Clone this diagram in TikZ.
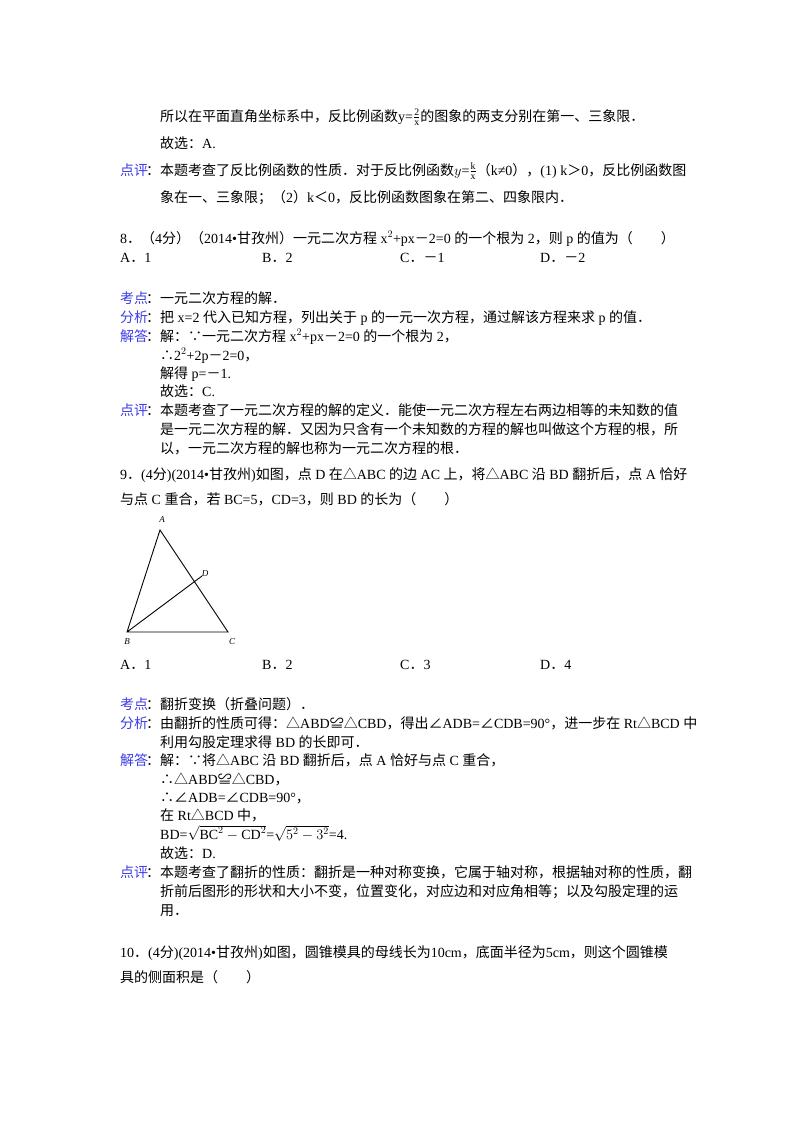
\documentclass[tikz,border=0pt]{standalone}
\usepackage{amsmath}
\usepackage{fontspec}
\setmainfont{Liberation Serif}
\newfontfamily\cjk{Noto Sans CJK SC}
\XeTeXinterchartokenstate=1
\newXeTeXintercharclass\cjkclass
\count255="4E00 \loop\XeTeXcharclass\count255=\cjkclass\advance\count255 1 \ifnum\count255<"9FFF\repeat
\count255="3000 \loop\XeTeXcharclass\count255=\cjkclass\advance\count255 1 \ifnum\count255<"3040\repeat
\count255="FF00 \loop\XeTeXcharclass\count255=\cjkclass\advance\count255 1 \ifnum\count255<"FFF0\repeat
\XeTeXcharclass"2234=\cjkclass \XeTeXcharclass"2235=\cjkclass \XeTeXcharclass"25B3=\cjkclass
\XeTeXcharclass"224C=\cjkclass \XeTeXcharclass"2220=\cjkclass
\XeTeXinterchartoks 0 \cjkclass={\cjk}
\XeTeXinterchartoks 4095 \cjkclass={\cjk}
\XeTeXinterchartoks \cjkclass 0={\rmfamily}
\XeTeXinterchartoks \cjkclass 4095={\rmfamily}
\definecolor{lab}{RGB}{60,60,230}
\tikzset{t/.style={anchor=base west,inner sep=0pt,font=\fontsize{14}{16}\selectfont},
 lb/.style={t,text=lab}}
\newcommand\fr[2]{$\genfrac{}{}{0.5pt}{1}{\mathrm{#1}}{\mathrm{#2}}$}
\begin{document}
\begin{tikzpicture}[x=1pt,y=-1pt]
\useasboundingbox (0,0) rectangle (800,1132);
\node[t] (l1) at (160,121) {所以在平面直角坐标系中，反比例函数y=\fr{2}{x}的图象的两支分别在第一、三象限．};
\node[t] (l2) at (160,148) {故选：A.};
\node[lb] (p1) at (120,175) {点评};
\node[t] (l3) at (146,175) {：本题考查了反比例函数的性质．对于反比例函数$y$=\fr{k}{x}（k≠0），(1) k＞0，反比例函数图};
\node[t] (l4) at (160,202) {象在一、三象限；（2）k＜0，反比例函数图象在第二、四象限内．};
\node[t] (q8) at (120,243) {8．（4分）（2014•甘孜州）一元二次方程 x$^2$+px－2=0 的一个根为 2，则 p 的值为（　　）};
\node[t] (a8) at (120,262) {A．1};
\node[t] (b8) at (262,262) {B．2};
\node[t] (c8) at (400,262) {C．－1};
\node[t] (d8) at (540,262) {D．－2};
\node[lb] (k8) at (120,303) {考点};
\node[t] at (146,303) {：一元二次方程的解．};
\node[lb] (f8) at (120,322) {分析};
\node[t] at (146,322) {：把 x=2 代入已知方程，列出关于 p 的一元一次方程，通过解该方程来求 p 的值．};
\node[lb] (j8) at (120,341) {解答};
\node[t] at (146,341) {：解：∵一元二次方程 x$^2$+px－2=0 的一个根为 2，};
\node[t] at (160,360) {∴2$^2$+2p－2=0，};
\node[t] at (160,378) {解得 p=－1.};
\node[t] at (160,396) {故选：C.};
\node[lb] (p8) at (120,415) {点评};
\node[t] at (146,415) {：本题考查了一元二次方程的解的定义．能使一元二次方程左右两边相等的未知数的值};
\node[t] at (160,434) {是一元二次方程的解．又因为只含有一个未知数的方程的解也叫做这个方程的根，所};
\node[t] at (160,453) {以，一元二次方程的解也称为一元二次方程的根．};
\node[t] (q9) at (120,479) {9．(4分)(2014•甘孜州)如图，点 D 在△ABC 的边 AC 上，将△ABC 沿 BD 翻折后，点 A 恰好};
\node[t] at (120,504) {与点 C 重合，若 BC=5，CD=3，则 BD 的长为（　　）};
\coordinate (A) at (160,530);
\coordinate (B) at (127,632);
\coordinate (C) at (228,632);
\coordinate (D) at (202,576);
\draw[line width=0.9pt] (A) -- (B) -- (C) -- cycle (B) -- (D);
\node[font=\itshape\small] (nA) at (162,520) {A};
\node[font=\itshape\small] (nD) at (205,574) {D};
\node[font=\itshape\small] (nB) at (127,642) {B};
\node[font=\itshape\small] (nC) at (232,642) {C};
\node[t] at (120,669) {A．1};
\node[t] at (262,669) {B．2};
\node[t] at (400,669) {C．3};
\node[t] at (540,669) {D．4};
\node[lb] at (120,709) {考点};
\node[t] at (146,709) {：翻折变换（折叠问题）．};
\node[lb] at (120,728) {分析};
\node[t] at (146,728) {：由翻折的性质可得：△ABD≌△CBD，得出∠ADB=∠CDB=90°，进一步在 Rt△BCD 中};
\node[t] at (160,747) {利用勾股定理求得 BD 的长即可．};
\node[lb] at (120,765) {解答};
\node[t] at (146,765) {：解：∵将△ABC 沿 BD 翻折后，点 A 恰好与点 C 重合，};
\node[t] at (160,784) {∴△ABD≌△CBD，};
\node[t] at (160,802) {∴∠ADB=∠CDB=90°，};
\node[t] at (160,820) {在 Rt△BCD 中，};
\node[t] at (160,839) {BD=$\sqrt{\mathrm{BC}^2-\mathrm{CD}^2}$=$\sqrt{5^2-3^2}$=4.};
\node[t] at (160,858) {故选：D.};
\node[lb] at (120,877) {点评};
\node[t] at (146,877) {：本题考查了翻折的性质：翻折是一种对称变换，它属于轴对称，根据轴对称的性质，翻};
\node[t] at (160,896) {折前后图形的形状和大小不变，位置变化，对应边和对应角相等；以及勾股定理的运};
\node[t] at (160,915) {用．};
\node[t] at (120,957) {10．(4分)(2014•甘孜州)如图，圆锥模具的母线长为10cm，底面半径为5cm，则这个圆锥模};
\node[t] at (120,982) {具的侧面积是（　　）};
\end{tikzpicture}
\end{document}
